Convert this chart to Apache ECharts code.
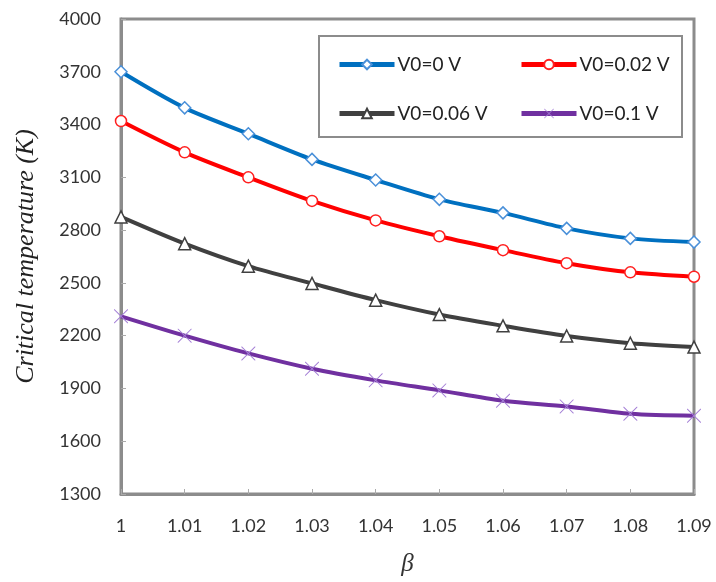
<!DOCTYPE html>
<html><head><meta charset="utf-8">
<script src="https://cdn.jsdelivr.net/npm/echarts@6/dist/echarts.min.js"></script>
<style>html,body{margin:0;padding:0;background:#fff}#c{width:716px;height:582px}</style>
</head><body><div id="c"></div>
<script>
const betaValues = [1, 1.01, 1.02, 1.03, 1.04, 1.05, 1.06, 1.07, 1.08, 1.09];
const seriesNames = ['V0=0 V', 'V0=0.02 V', 'V0=0.06 V', 'V0=0.1 V'];
const v0_0 = [3700, 3495, 3348, 3202, 3085, 2975, 2898, 2810, 2753, 2732];
const v0_002 = [3420, 3242, 3100, 2966, 2855, 2765, 2686, 2612, 2560, 2535];
const v0_006 = [2875, 2723, 2595, 2497, 2402, 2320, 2256, 2198, 2157, 2135];
const v0_01 = [2310, 2200, 2099, 2012, 1946, 1889, 1830, 1798, 1756, 1745];

const pair = (ys) => betaValues.map((b, i) => [b, ys[i]]);
const xPath = 'path://M0,0L1,0L10,9L19,0L20,0L20,1L11,10L20,19L20,20L19,20L10,11L1,20L0,20L0,19L9,10L0,1Z';

const chart = echarts.init(document.getElementById('c'));
const labelFont = 'Lato, "Open Sans", sans-serif';
const legendPos = [[332, 50], [514, 50], [332, 99], [514, 99]];
const mkLegend = (name, i) => ({
  data: [name], left: legendPos[i][0], top: legendPos[i][1], z: 5, itemWidth: 55, itemHeight: 12, itemGap: 3,
  lineStyle: { width: 5 },
  textStyle: { fontFamily: labelFont, fontSize: 19, color: '#222', padding: [0, 0, 0, -2] }
});
chart.setOption({
  animation: false,
  grid: { left: 121, right: 22, top: 19, bottom: 86, show: true, borderColor: '#8c8c8c', borderWidth: 3, backgroundColor: '#fff' },
  graphic: [{ type: 'rect', left: 318, top: 35, z: 3, shape: { width: 363, height: 101 }, style: { fill: '#fff', stroke: '#8c8c8c', lineWidth: 2 } }],
  legend: seriesNames.map(mkLegend),
  xAxis: {
    type: 'value', min: 1, max: 1.09, interval: 0.01,
    name: 'β', nameLocation: 'middle', nameGap: 58,
    nameTextStyle: { fontFamily: '"Liberation Serif", serif', fontStyle: 'italic', fontSize: 25, color: '#333' },
    axisLine: { show: true, lineStyle: { color: '#8c8c8c', width: 3 } },
    axisTick: { show: true, inside: true, length: 5, lineStyle: { color: '#aaa', width: 1 } },
    splitLine: { show: false },
    axisLabel: { margin: 23, fontFamily: labelFont, fontSize: 18, color: '#333', formatter: v => String(parseFloat(v.toFixed(2))) }
  },
  yAxis: {
    type: 'value', min: 1300, max: 4000, interval: 300,
    name: 'Critical temperature (K)', nameLocation: 'middle', nameGap: 82,
    nameTextStyle: { fontFamily: '"Liberation Serif", serif', fontStyle: 'italic', fontSize: 26, color: '#222' },
    axisLine: { show: true, lineStyle: { color: '#8c8c8c', width: 3 } },
    axisTick: { show: true, inside: true, length: 5, lineStyle: { color: '#aaa', width: 1 } },
    splitLine: { show: false },
    axisLabel: { margin: 20, fontFamily: labelFont, fontSize: 18, color: '#333', formatter: v => String(v) }
  },
  series: [
    { name: seriesNames[0], type: 'line', smooth: 0.3, data: pair(v0_0), symbol: 'diamond', symbolSize: 12,
      lineStyle: { color: '#0070C0', width: 4 }, itemStyle: { color: '#fff', borderColor: '#4a90d9', borderWidth: 1.5 } },
    { name: seriesNames[1], type: 'line', smooth: 0.3, data: pair(v0_002), symbol: 'circle', symbolSize: 11,
      lineStyle: { color: '#FF0000', width: 4 }, itemStyle: { color: '#fff', borderColor: '#ff2020', borderWidth: 1.5 } },
    { name: seriesNames[2], type: 'line', smooth: 0.3, data: pair(v0_006), symbol: 'triangle', symbolSize: 12,
      lineStyle: { color: '#404040', width: 4 }, itemStyle: { color: '#fff', borderColor: '#404040', borderWidth: 1.5 } },
    { name: seriesNames[3], type: 'line', smooth: 0.3, data: pair(v0_01), symbol: xPath, symbolSize: 14,
      lineStyle: { color: '#7030A0', width: 4 }, itemStyle: { color: '#a47fd6' } }
  ]
});
</script></body></html>
